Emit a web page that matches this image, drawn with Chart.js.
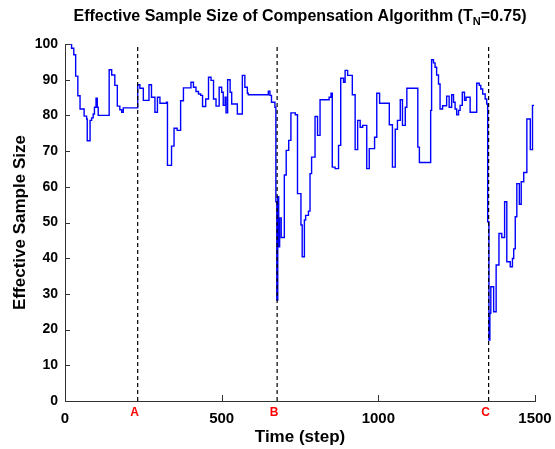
<!DOCTYPE html>
<html lang="en">
<head>
<meta charset="UTF-8">
<title>Effective Sample Size of Compensation Algorithm</title>
<script src="https://cdn.jsdelivr.net/npm/chart.js"></script>
<style>
    html, body { margin: 0; padding: 0; background: #fff; }
    .chart-container { width: 555px; height: 449px; position: relative; }
</style>
</head>
<body>
<div class="chart-container">
    <canvas id="essChart" width="555" height="449"></canvas>
</div>
<script>
// step positions where the ESS value changes, and the value held from there on
const steps = [0,21,28,34,41,48,61,69,71,80,
    85,90,94,99,103,106,141,149,159,167,
    175,181,186,232,239,250,268,276,287,295,
    303,324,327,340,348,358,369,378,402,410,
    418,426,433,439,449,458,466,474,482,492,
    500,505,511,514,519,527,532,550,566,574,
    582,585,649,654,659,670,673,676,679,682,
    685,690,700,706,714,721,735,742,753,757,
    764,768,777,782,787,798,806,814,843,849,
    853,862,873,880,889,894,902,917,926,934,
    942,950,963,971,988,995,1004,1035,1045,1054,
    1061,1070,1077,1086,1091,1126,1131,1167,1170,1176,
    1181,1186,1192,1197,1205,1218,1226,1234,1240,1245,
    1250,1256,1261,1268,1275,1280,1293,1314,1322,1327,
    1333,1341,1346,1349,1353,1356,1359,1368,1376,1385,
    1394,1403,1410,1421,1428,1432,1437,1442,1450,1456,
    1464,1474,1485,1492,1497];
const ess = [100,98.8,97,91,85.5,81.8,79.8,79,72.9,78.6,
    79.3,80.4,82.3,84.8,82.3,80,92.8,91.3,88.4,82.6,
    81.6,80.9,82.1,88.6,87.6,84.2,88.6,85.1,80.9,85.1,
    83.4,83.7,66,71.4,76.4,75.8,84.1,87.7,89.3,87.9,
    86.7,86,85.6,82.5,84.6,90.7,89.8,84.6,82.6,87.9,
    86.5,82.8,85.1,80.7,90,86.5,83.2,80.4,91.2,87.9,
    86.2,85.8,86.8,85.6,83.7,82.3,55.8,28.3,57.2,43.2,
    51.3,45.8,63.3,70.2,73,80.7,80.2,58.1,49.3,40.4,
    50.7,52,53.2,63.7,68.3,79.7,74.4,84.4,85.1,86.2,
    65.5,65.1,71.6,90.4,89.3,92.6,91.2,85.8,70.4,78.6,
    76.7,77.2,65.1,70.7,73.9,86.2,83.4,77.4,65.5,76.1,
    78.6,84.4,77.2,82.3,87.6,71.1,66.8,81.4,95.6,94.7,
    93.5,91.3,88.8,81.8,82.7,85.4,82.3,85.8,83.7,81.8,
    80.2,81.4,82.8,86.5,84.2,85.1,80.9,89,88.4,87.4,
    86,84.6,83.2,50.2,17.1,24.6,32,25,38.1,46.9,
    45.8,55.8,39,37.6,39.9,42.6,51.6,60.9,55.1,61.4,
    64,79,70.4,82.8,82.8];

const eventSteps = [232, 677, 1352];
const eventLabels = ['A', 'B', 'C'];
const xTicks = [0, 500, 1000, 1500];
const yTicks = [0, 10, 20, 30, 40, 50, 60, 70, 80, 90, 100];

const FONT = '"Liberation Sans", Arial, sans-serif';
const AXIS_COLOR = '#333';

const datasets = eventSteps.map(s => ({
    data: [{ x: s, y: 0 }, { x: s, y: 100 }],
    borderColor: '#000',
    borderWidth: 1.2,
    borderDash: [4, 3],
    pointRadius: 0,
    order: 0
}));
datasets.push({
    data: steps.map((s, i) => ({ x: s, y: ess[i] })),
    borderColor: '#0000ff',
    borderWidth: 1.4,
    pointRadius: 0,
    stepped: true,
    fill: false,
    order: 1
});

// MATLAB-style extras: inside ticks, x labels, title with subscript, axis titles, event letters
const decorations = {
    id: 'decorations',
    afterDraw(chart) {
        const ctx = chart.ctx;
        const xs = chart.scales.x, ys = chart.scales.y;
        const area = chart.chartArea;
        ctx.save();

        ctx.strokeStyle = AXIS_COLOR;
        ctx.lineWidth = 1;
        ctx.beginPath();
        yTicks.forEach(v => {
            const y = Math.round(ys.getPixelForValue(v)) + 0.5;
            ctx.moveTo(area.left, y);
            ctx.lineTo(area.left + 5, y);
        });
        xTicks.forEach(v => {
            const x = Math.round(xs.getPixelForValue(v)) + 0.5;
            ctx.moveTo(x, area.bottom);
            ctx.lineTo(x, area.bottom - 6);
        });
        ctx.stroke();

        ctx.textAlign = 'center';
        ctx.textBaseline = 'top';

        // x tick labels
        ctx.fillStyle = '#000';
        ctx.font = 'bold 15px ' + FONT;
        xTicks.forEach(v => {
            ctx.fillText(String(v), xs.getPixelForValue(v), area.bottom + 10);
        });

        // event letters under the dashed lines
        ctx.fillStyle = '#ff0000';
        ctx.font = 'bold 12px ' + FONT;
        eventSteps.forEach((s, i) => {
            ctx.fillText(eventLabels[i], xs.getPixelForValue(s) - 3, area.bottom + 6);
        });

        // title with subscript N
        ctx.fillStyle = '#000';
        ctx.textBaseline = 'alphabetic';
        ctx.textAlign = 'left';
        const main = 'Effective Sample Size of Compensation Algorithm (T';
        const sub = 'N';
        const tail = '=0.75)';
        ctx.font = 'bold 16px ' + FONT;
        const w1 = ctx.measureText(main).width;
        const w3 = ctx.measureText(tail).width;
        ctx.font = 'bold 11px ' + FONT;
        const w2 = ctx.measureText(sub).width;
        const cx = (area.left + area.right) / 2;
        const x0 = cx - (w1 + w2 + w3) / 2;
        ctx.font = 'bold 16px ' + FONT;
        ctx.fillText(main, x0, 21);
        ctx.font = 'bold 11px ' + FONT;
        ctx.fillText(sub, x0 + w1, 25);
        ctx.font = 'bold 16px ' + FONT;
        ctx.fillText(tail, x0 + w1 + w2, 21);

        // axis titles
        ctx.textAlign = 'center';
        ctx.font = 'bold 17px ' + FONT;
        ctx.fillText('Time (step)', cx, 442);
        ctx.translate(25, (area.top + area.bottom) / 2);
        ctx.rotate(-Math.PI / 2);
        ctx.fillText('Effective Sample Size', 0, 0);
        ctx.restore();
    }
};

new Chart(document.getElementById('essChart'), {
    type: 'line',
    data: { datasets: datasets },
    options: {
        responsive: false,
        animation: false,
        devicePixelRatio: 1,
        layout: { autoPadding: false, padding: { top: 44, right: 20, left: 0, bottom: 0 } },
        plugins: { legend: { display: false }, tooltip: { enabled: false }, title: { display: false } },
        scales: {
            x: {
                type: 'linear',
                min: 0,
                max: 1500,
                afterBuildTicks: s => { s.ticks = xTicks.map(v => ({ value: v })); },
                afterFit: s => { s.height = 48; },
                grid: { display: false, drawTicks: false },
                border: { display: true, color: AXIS_COLOR, width: 1 },
                ticks: { display: false }
            },
            y: {
                min: 0,
                max: 100,
                afterBuildTicks: s => { s.ticks = yTicks.map(v => ({ value: v })); },
                afterFit: s => { s.width = 65; },
                grid: { display: false, drawTicks: false },
                border: { display: true, color: AXIS_COLOR, width: 1 },
                ticks: { color: '#000', padding: 7, font: { family: FONT, size: 14, weight: 'bold' } }
            }
        }
    },
    plugins: [decorations]
});
</script>
</body>
</html>
